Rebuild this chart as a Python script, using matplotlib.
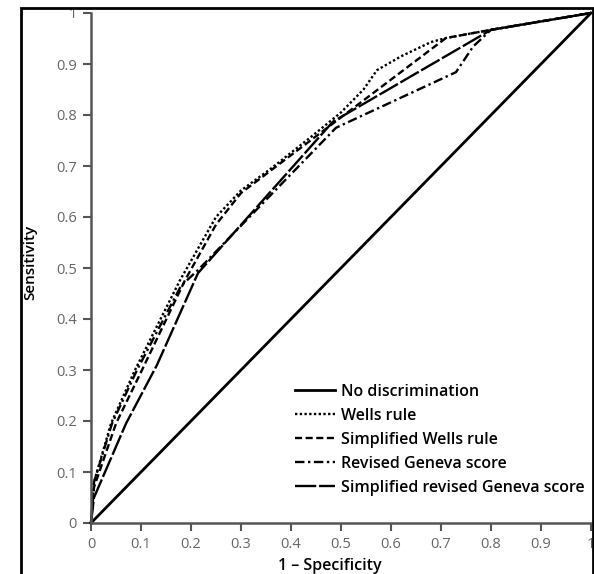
import matplotlib.pyplot as plt
import matplotlib.patches as mpatches

plt.rcParams['font.family'] = ['Open Sans', 'DejaVu Sans']

# ROC curves (1 - specificity, sensitivity)
wells_x = [0, 0.006, 0.04, 0.088, 0.178, 0.25, 0.3, 0.36, 0.44, 0.5, 0.545, 0.572, 0.62, 0.68, 0.71, 0.8, 1]
wells_y = [0, 0.08, 0.195, 0.3, 0.476, 0.6, 0.652, 0.695, 0.757, 0.805, 0.85, 0.888, 0.915, 0.943, 0.951, 0.967, 1]

swells_x = [0, 0.006, 0.05, 0.102, 0.188, 0.25, 0.3, 0.71, 0.8, 1]
swells_y = [0, 0.07, 0.195, 0.3, 0.476, 0.585, 0.647, 0.951, 0.967, 1]

geneva_x = [0, 0.006, 0.042, 0.092, 0.18, 0.214, 0.49, 0.73, 0.764, 0.8, 1]
geneva_y = [0, 0.08, 0.195, 0.3, 0.465, 0.496, 0.775, 0.884, 0.934, 0.967, 1]

sgeneva_x = [0, 0.006, 0.07, 0.132, 0.214, 0.484, 0.8, 1]
sgeneva_y = [0, 0.05, 0.195, 0.31, 0.49, 0.787, 0.967, 1]

diag_x = [0, 1]
diag_y = [0, 1]

ticks = [0, 0.1, 0.2, 0.3, 0.4, 0.5, 0.6, 0.7, 0.8, 0.9, 1]
tick_labels = ['0', '0.1', '0.2', '0.3', '0.4', '0.5', '0.6', '0.7', '0.8', '0.9', '1']

fig = plt.figure(figsize=(5.94, 5.74), dpi=100)
ax = fig.add_axes([91 / 594, 1 - 523 / 574, 500 / 594, 510 / 574])

ax.plot(diag_x, diag_y, color='black', lw=2.0, ls='-', label='No discrimination', clip_on=False)
ax.plot(wells_x, wells_y, color='black', lw=1.7, ls=(0, (1, 1)), label='Wells rule', clip_on=False)
ax.plot(swells_x, swells_y, color='black', lw=1.7, ls=(0, (3, 1.5)), label='Simplified Wells rule', clip_on=False)
ax.plot(geneva_x, geneva_y, color='black', lw=1.7, ls=(0, (4, 1.5, 1, 1.5)), label='Revised Geneva score', clip_on=False)
ax.plot(sgeneva_x, sgeneva_y, color='black', lw=1.7, ls=(0, (9, 1.2)), label='Simplified revised Geneva score', clip_on=False)

ax.set_xlim(0, 1)
ax.set_ylim(0, 1)
ax.set_xticks(ticks)
ax.set_xticklabels(tick_labels)
ax.set_yticks(ticks)
ax.set_yticklabels(tick_labels)

for side in ['top', 'right']:
    ax.spines[side].set_visible(False)
for side in ['left', 'bottom']:
    ax.spines[side].set_color('#555555')
    ax.spines[side].set_linewidth(1.8)
ax.tick_params(colors='#555555', labelcolor='#666666', labelsize=10.5, length=6, width=1.5, pad=4)

ax.legend(loc='lower left', bbox_to_anchor=(204 / 500, 27 / 510), frameon=False,
          handlelength=2.5, handletextpad=0.35, labelspacing=0.5, borderaxespad=0,
          borderpad=0, prop={'size': 11.5, 'weight': 'semibold'})

fig.text(30 / 594, 1 - 262 / 574, 'Sensitivity', rotation=90, ha='center', va='center',
         fontsize=11, fontweight='semibold')
fig.text(330 / 594, 1 - 566 / 574, '1 \u2013 Specificity', ha='center', va='center',
         fontsize=11.5, fontweight='semibold')

# black frame around the picture
fig.patches.append(mpatches.Rectangle((21 / 594, -0.01), 572 / 594, 1 - 8 / 574 + 0.01,
                                      transform=fig.transFigure, fill=False,
                                      edgecolor='black', lw=2))

fig.savefig('out.png', dpi=100)
